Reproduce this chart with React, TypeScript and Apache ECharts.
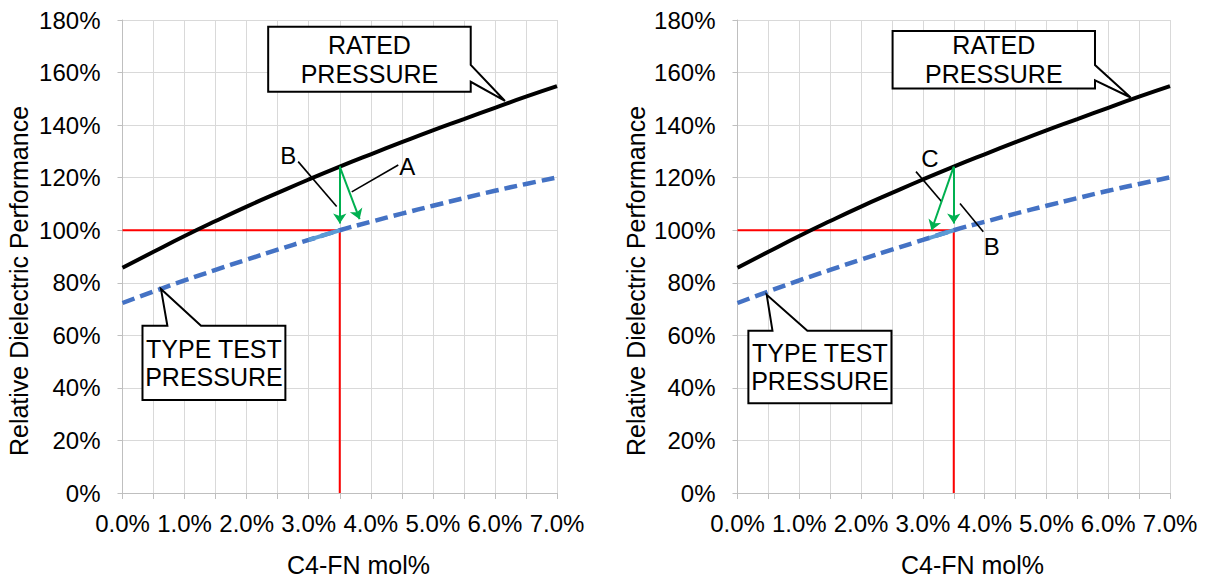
import React, { useEffect, useRef } from "react";
import * as echarts from "echarts";

// ---------- data ----------
const concentration = [0, 0.5, 1, 1.5, 2, 2.5, 3, 3.5, 4, 4.5, 5, 5.5, 6, 6.5, 7];
const ratedPressure = [85.7, 91.8, 97.8, 103.5, 109, 114.2, 119.3, 124.2, 128.9, 133.5, 138, 142.3, 146.6, 150.8, 154.8];
const typeTestPressure = [72.3, 76.7, 80.9, 84.9, 88.8, 92.6, 96.3, 100, 103.2, 106.3, 109.3, 112.2, 115, 117.6, 120.1];
const designPoint = [[0, 100], [3.5, 100], [3.5, 0]];
const highlightLeft = [[3.0, 96.3], [3.5, 100]];
const highlightRight = [[3.1, 97.0], [3.5, 100]];
const xTickLabels = ["0.0%", "1.0%", "2.0%", "3.0%", "4.0%", "5.0%", "6.0%", "7.0%"];
const yTickLabels = ["0%", "20%", "40%", "60%", "80%", "100%", "120%", "140%", "160%", "180%"];
const xAxisName = "C4-FN mol%";
const yAxisName = "Relative Dielectric Performance";
const ratedLabel = "RATED\nPRESSURE";
const typeTestLabel = "TYPE TEST\nPRESSURE";

// ---------- annotations (data units) ----------
const panels = [
  {
    grid: { left: 122.5, top: 20, width: 434.5, height: 473 },
    highlight: highlightLeft,
    arrows: [
      [[3.5, 124.2], [3.5, 102.6]],
      [[3.5, 124.2], [3.82, 104.2]],
    ],
    leaders: [
      [[2.83, 126.1], [3.45, 109.0]],
      [[4.443, 124.8], [3.693, 114.6]],
    ],
    letters: [
      { text: "B", at: [2.671, 128.6] },
      { text: "A", at: [4.588, 124.4] },
    ],
    rated: { x1: 2.347, x2: 5.61, yTop: 177.4, yBot: 152.7, p1: 162.9, p2: 156.5, tip: [6.162, 149.2] },
    typeTest: { x1: 0.322, x2: 2.624, yTop: 63.66, yBot: 35.4, b1: 0.723, b2: 1.265, tip: [0.62, 77.6] },
    xName: [358.5, 564.5],
    yName: [19, 281],
  },
  {
    grid: { left: 737.5, top: 20, width: 432.5, height: 473 },
    highlight: highlightRight,
    arrows: [
      [[3.5, 124.2], [3.5, 102.6]],
      [[3.5, 124.2], [3.14, 100.0]],
    ],
    leaders: [
      [[2.889, 122.3], [3.305, 110.8]],
      [[3.601, 110.2], [3.978, 99.4]],
    ],
    letters: [
      { text: "C", at: [3.115, 127.4] },
      { text: "B", at: [4.114, 93.7] },
    ],
    rated: { x1: 2.51, x2: 5.786, yTop: 175.8, yBot: 153.9, p1: 162.9, p2: 157.0, tip: [6.364, 150.5] },
    typeTest: { x1: 0.176, x2: 2.492, yTop: 61.76, yBot: 34.13, b1: 0.566, b2: 1.131, tip: [0.473, 75.4] },
    xName: [972.5, 564.5],
    yName: [636, 281],
  },
];

const FONT = '"Liberation Sans", Arial, sans-serif';
const zip = (xs: number[], ys: number[]) => xs.map((x, i) => [x, ys[i]]);

export default function App() {
  const ref = useRef<HTMLDivElement>(null);

  useEffect(() => {
    const chart = echarts.init(ref.current!, null, { renderer: "svg" });

    const grid = panels.map((p) => ({ ...p.grid, containLabel: false }));
    const xAxis = panels.map((_, i) => ({
      type: "value",
      gridIndex: i,
      min: 0,
      max: 7,
      interval: 1,
      axisLine: { show: true, onZero: false, lineStyle: { color: "#bfbfbf", width: 1 } },
      axisTick: { show: true, length: 6, lineStyle: { color: "#bfbfbf" } },
      minorTick: { show: true, splitNumber: 2, length: 6, lineStyle: { color: "#bfbfbf" } },
      splitLine: { show: true, lineStyle: { color: "#d9d9d9", width: 1 } },
      minorSplitLine: { show: true, lineStyle: { color: "#d9d9d9", width: 1 } },
      axisLabel: {
        margin: 18,
        fontSize: 24,
        fontFamily: FONT,
        color: "#000",
        lineHeight: 24,
        formatter: (v: number) => xTickLabels[Math.round(v)] ?? "",
      },
    }));
    const yAxis = panels.map((_, i) => ({
      type: "value",
      gridIndex: i,
      min: 0,
      max: 180,
      interval: 20,
      axisLine: { show: true, onZero: false, lineStyle: { color: "#bfbfbf", width: 1 } },
      axisTick: { show: true, length: 5, lineStyle: { color: "#bfbfbf" } },
      splitLine: { show: true, lineStyle: { color: "#d9d9d9", width: 1 } },
      axisLabel: {
        margin: 22,
        fontSize: 24,
        fontFamily: FONT,
        color: "#000",
        formatter: (v: number) => yTickLabels[Math.round(v / 20)] ?? "",
      },
    }));

    const series: any[] = [];
    panels.forEach((p, i) => {
      const ax = { xAxisIndex: i, yAxisIndex: i };
      series.push({
        type: "line", ...ax, data: designPoint, symbol: "none", silent: true,
        lineStyle: { color: "#ff0000", width: 2 }, z: 2,
      });
      series.push({
        type: "line", ...ax, data: zip(concentration, ratedPressure), symbol: "none", smooth: true, silent: true,
        lineStyle: { color: "#000000", width: 4 }, z: 3,
      });
      series.push({
        type: "line", ...ax, data: zip(concentration, typeTestPressure), symbol: "none", smooth: true, silent: true,
        lineStyle: { color: "#4472c4", width: 4.5, type: [13, 6], cap: "butt" }, z: 3,
      });
      series.push({
        type: "line", ...ax, data: p.highlight, symbol: "none", silent: true,
        lineStyle: { color: "#5b9bd5", width: 4 }, z: 4,
      });
      series.push({
        type: "lines", coordinateSystem: "cartesian2d", ...ax, silent: true,
        data: p.leaders.map((c) => ({ coords: c })),
        symbol: "none",
        lineStyle: { color: "#000", width: 1.6, opacity: 1 }, z: 5,
      });
      series.push({
        type: "lines", coordinateSystem: "cartesian2d", ...ax, silent: true,
        data: p.arrows.map((c) => ({ coords: c })),
        symbol: ["none", "arrow"],
        symbolSize: 10,
        itemStyle: { color: "#00b050" },
        lineStyle: { color: "#00b050", width: 2, opacity: 1 }, z: 6,
      });
    });

    chart.setOption({
      animation: false,
      backgroundColor: "#ffffff",
      grid,
      xAxis,
      yAxis,
      series,
    });

    const graphic: any[] = [];
    panels.forEach((p, i) => {
      const px = (pt: number[]) => chart.convertToPixel({ gridIndex: i } as any, pt) as number[];
      const r = p.rated;
      const ratedPts = [
        [r.x1, r.yTop], [r.x2, r.yTop], [r.x2, r.p1], r.tip, [r.x2, r.p2], [r.x2, r.yBot], [r.x1, r.yBot],
      ].map(px);
      graphic.push({
        type: "polygon", z: 100, silent: true,
        shape: { points: ratedPts },
        style: { fill: "#ffffff", stroke: "#000000", lineWidth: 2 },
      });
      const rc = px([(r.x1 + r.x2) / 2, (r.yTop + r.yBot) / 2]);
      graphic.push({
        type: "text", z: 101, silent: true, x: rc[0], y: rc[1],
        style: {
          text: ratedLabel, fill: "#000", fontSize: 25, fontFamily: FONT, lineHeight: 29,
          align: "center", verticalAlign: "middle", textAlign: "center", textVerticalAlign: "middle",
        },
      });
      const t = p.typeTest;
      const ttPts = [
        [t.x1, t.yTop], [t.b1, t.yTop], t.tip, [t.b2, t.yTop], [t.x2, t.yTop], [t.x2, t.yBot], [t.x1, t.yBot],
      ].map(px);
      graphic.push({
        type: "polygon", z: 100, silent: true,
        shape: { points: ttPts },
        style: { fill: "#ffffff", stroke: "#000000", lineWidth: 2 },
      });
      const tc = px([(t.x1 + t.x2) / 2, (t.yTop + t.yBot) / 2]);
      graphic.push({
        type: "text", z: 101, silent: true, x: tc[0], y: tc[1],
        style: {
          text: typeTestLabel, fill: "#000", fontSize: 25, fontFamily: FONT, lineHeight: 28.5,
          align: "center", verticalAlign: "middle", textAlign: "center", textVerticalAlign: "middle",
        },
      });
      p.letters.forEach((l) => {
        const c = px(l.at);
        graphic.push({
          type: "text", z: 101, silent: true, x: c[0], y: c[1],
          style: {
            text: l.text, fill: "#000", fontSize: 24, fontFamily: FONT,
            align: "center", verticalAlign: "middle", textAlign: "center", textVerticalAlign: "middle",
          },
        });
      });
      graphic.push({
        type: "text", z: 101, silent: true, x: p.xName[0], y: p.xName[1],
        style: {
          text: xAxisName, fill: "#000", fontSize: 25, fontFamily: FONT,
          align: "center", verticalAlign: "middle", textAlign: "center", textVerticalAlign: "middle",
        },
      });
      graphic.push({
        type: "text", z: 101, silent: true, x: p.yName[0], y: p.yName[1], rotation: Math.PI / 2,
        style: {
          text: yAxisName, fill: "#000", fontSize: 25, fontFamily: FONT,
          align: "center", verticalAlign: "middle", textAlign: "center", textVerticalAlign: "middle",
        },
      });
    });
    chart.setOption({ graphic });

    return () => chart.dispose();
  }, []);

  return (
    <div
      ref={ref}
      style={{ position: "fixed", left: 0, top: 0, width: 1211, height: 579, background: "#fff" }}
    />
  );
}
